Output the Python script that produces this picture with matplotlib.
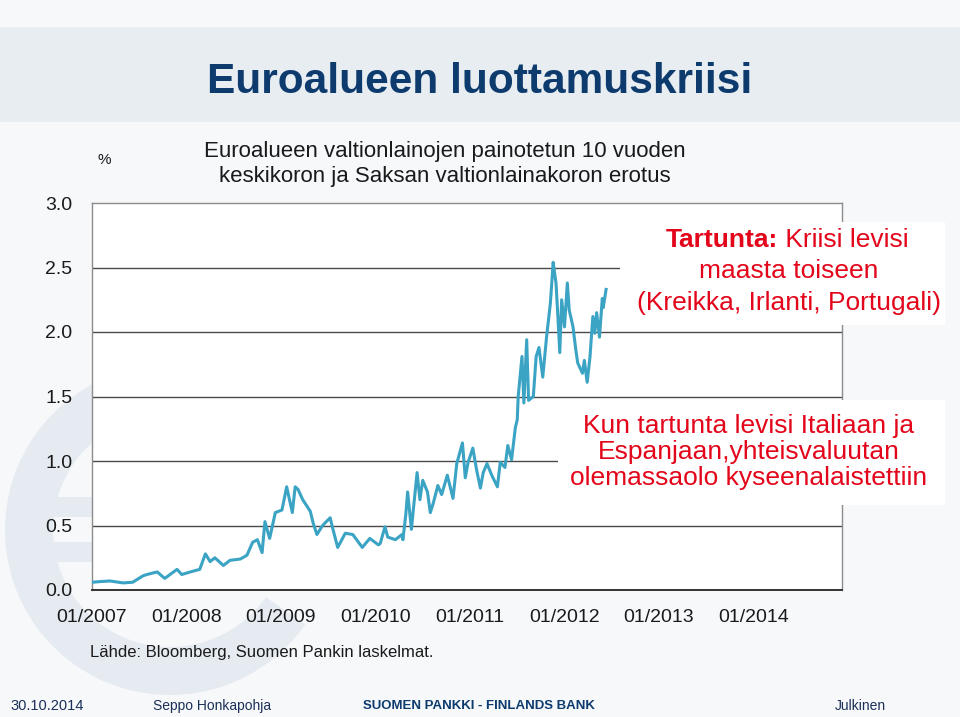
import matplotlib
matplotlib.use("Agg")
import matplotlib.pyplot as plt
from matplotlib.patches import Rectangle, Wedge

# spread, %, x as decimal year
years = [2007.00, 2007.08, 2007.19, 2007.33, 2007.43, 2007.54, 2007.58, 2007.69, 2007.77, 2007.90,
         2007.95, 2008.04, 2008.14, 2008.20, 2008.25, 2008.30, 2008.39, 2008.46, 2008.57, 2008.64,
         2008.70, 2008.75, 2008.80, 2008.83, 2008.88, 2008.94, 2009.01, 2009.06, 2009.12, 2009.15,
         2009.18, 2009.23, 2009.31, 2009.34, 2009.38, 2009.44, 2009.52, 2009.55, 2009.60, 2009.68,
         2009.76, 2009.86, 2009.94, 2010.03, 2010.05, 2010.10, 2010.13, 2010.21, 2010.28, 2010.29,
         2010.32, 2010.34, 2010.38, 2010.40, 2010.44, 2010.47, 2010.50, 2010.55, 2010.58, 2010.61,
         2010.66, 2010.70, 2010.76, 2010.82, 2010.86, 2010.92, 2010.95, 2010.98, 2011.03, 2011.07,
         2011.11, 2011.14, 2011.18, 2011.23, 2011.29, 2011.32, 2011.37, 2011.40, 2011.44, 2011.48,
         2011.50, 2011.51, 2011.55, 2011.57, 2011.60, 2011.62, 2011.67, 2011.70, 2011.73, 2011.77,
         2011.81, 2011.85, 2011.87, 2011.88, 2011.91, 2011.93, 2011.95, 2011.97, 2012.00, 2012.03,
         2012.05, 2012.09, 2012.12, 2012.14, 2012.19, 2012.21, 2012.24, 2012.27, 2012.30, 2012.32,
         2012.34, 2012.37, 2012.40, 2012.41, 2012.44]
spread = [0.06, 0.065, 0.07, 0.055, 0.06, 0.11, 0.12, 0.14, 0.09, 0.16,
          0.12, 0.14, 0.16, 0.28, 0.22, 0.25, 0.19, 0.23, 0.24, 0.27,
          0.37, 0.39, 0.29, 0.53, 0.40, 0.60, 0.62, 0.80, 0.60, 0.80,
          0.78, 0.70, 0.61, 0.52, 0.43, 0.50, 0.56, 0.47, 0.33, 0.44,
          0.43, 0.33, 0.40, 0.35, 0.36, 0.49, 0.41, 0.39, 0.43, 0.39,
          0.58, 0.76, 0.47, 0.62, 0.91, 0.70, 0.85, 0.76, 0.60, 0.67,
          0.81, 0.74, 0.89, 0.71, 0.98, 1.14, 0.87, 0.99, 1.10, 0.93,
          0.79, 0.91, 0.98, 0.89, 0.80, 0.99, 0.95, 1.12, 1.01, 1.26,
          1.32, 1.50, 1.81, 1.45, 1.94, 1.47, 1.50, 1.81, 1.88, 1.65,
          1.96, 2.22, 2.43, 2.54, 2.38, 2.12, 1.84, 2.25, 2.04, 2.38,
          2.17, 2.04, 1.86, 1.76, 1.68, 1.78, 1.61, 1.81, 2.12, 1.99,
          2.15, 1.96, 2.26, 2.19, 2.33]
tick_years = [2007, 2008, 2009, 2010, 2011, 2012, 2013, 2014]
tick_labels = ["01/%d" % y for y in tick_years]
y_ticks = [0.0, 0.5, 1.0, 1.5, 2.0, 2.5, 3.0]

plt.rcParams['font.family'] = ['Liberation Sans', 'DejaVu Sans']

fig = plt.figure(figsize=(9.6, 7.17), dpi=100)
fig.patch.set_facecolor('#f6f8fa')
W, H = 960, 717

def fx(px):
    return px / W

def fy(py):
    return 1 - py / H

# background: title band and faint euro watermark, in pixel units
bg = fig.add_axes([0, 0, 1, 1], zorder=-1)
bg.set_xlim(0, W)
bg.set_ylim(H, 0)
bg.axis('off')
bg.add_patch(Rectangle((0, 27), W, 95, facecolor='#e8edf2', edgecolor='none'))
bg.add_patch(Wedge((170, 530), 165, 35, 325, width=48, facecolor='#e6ebf1', edgecolor='none'))
bg.add_patch(Rectangle((8, 497), 150, 20, facecolor='#e6ebf1', edgecolor='none'))
bg.add_patch(Rectangle((8, 542), 150, 20, facecolor='#e6ebf1', edgecolor='none'))

fig.text(0.5, fy(82), "Euroalueen luottamuskriisi", fontsize=30.5, fontweight='bold',
         color='#0d3b6e', ha='center', va='center')

ax = fig.add_axes([fx(92), fy(590), fx(842) - fx(92), (590 - 203) / H])
ax.set_facecolor('white')
ax.plot(years, spread, color='#3ba3c3', lw=2.2, solid_joinstyle='round', zorder=3)
ax.set_xlim(2007.0, 2007 + 750 / 94.5)
ax.set_ylim(0, 3.0)
ax.set_xticks(tick_years)
ax.set_xticklabels(tick_labels)
ax.set_yticks(y_ticks)
ax.set_yticklabels(["%.1f" % v for v in y_ticks])
ax.tick_params(axis='both', length=0, labelsize=14, colors='#1a1a1a')
ax.tick_params(axis='x', pad=14)
ax.tick_params(axis='y', pad=14)
for v in y_ticks[1:-1]:
    ax.axhline(v, color='#4a4a4a', lw=1.0, zorder=1)
for s in ['top', 'right', 'left']:
    ax.spines[s].set_color('#8c8c8c')
    ax.spines[s].set_linewidth(1.0)
ax.spines['bottom'].set_color('#333333')
ax.spines['bottom'].set_linewidth(1.4)

fig.text(fx(97), fy(160), "%", fontsize=11, color='#1a1a1a', ha='left', va='center')
fig.text(fx(445), fy(164), "Euroalueen valtionlainojen painotetun 10 vuoden\nkeskikoron ja Saksan valtionlainakoron erotus",
         fontsize=16, color='#1a1a1a', ha='center', va='center', linespacing=1.2)

# annotation boxes
red = '#e3061b'
fig.patches.append(Rectangle((fx(620), fy(325)), (945 - 620) / W, (325 - 222) / H,
                             transform=fig.transFigure, facecolor='white', edgecolor='none', zorder=5))
fig.patches.append(Rectangle((fx(558), fy(505)), (945 - 558) / W, (505 - 400) / H,
                             transform=fig.transFigure, facecolor='white', edgecolor='none', zorder=5))
fig.text(fx(778), fy(240), "Tartunta:", fontsize=19, fontweight='bold', color=red,
         ha='right', va='center', zorder=6)
fig.text(fx(778), fy(240), " Kriisi levisi", fontsize=19, color=red, ha='left', va='center', zorder=6)
fig.text(fx(789), fy(271), "maasta toiseen", fontsize=19, color=red, ha='center', va='center', zorder=6)
fig.text(fx(789), fy(303), "(Kreikka, Irlanti, Portugali)", fontsize=19, color=red,
         ha='center', va='center', zorder=6)
fig.text(fx(749), fy(452), "Kun tartunta levisi Italiaan ja\nEspanjaan,yhteisvaluutan\nolemassaolo kyseenalaistettiin",
         fontsize=19, color=red, ha='center', va='center', linespacing=1.08, zorder=6)

fig.text(fx(90), fy(652), "Lähde: Bloomberg, Suomen Pankin laskelmat.", fontsize=12,
         color='#1a1a1a', ha='left', va='center')

# footer
fig.text(fx(10), fy(706), "30.10.2014", fontsize=10.5, color='#1c2f57', va='center')
fig.text(fx(153), fy(706), "Seppo Honkapohja", fontsize=10, color='#1c2f57', va='center')
fig.text(fx(363), fy(706), "SUOMEN PANKKI - FINLANDS BANK", fontsize=9.5, fontweight='bold',
         color='#0d3b6e', va='center')
fig.text(fx(835), fy(706), "Julkinen", fontsize=10, color='#1c2f57', va='center')

fig.savefig('out.png', dpi=100, facecolor=fig.get_facecolor())
